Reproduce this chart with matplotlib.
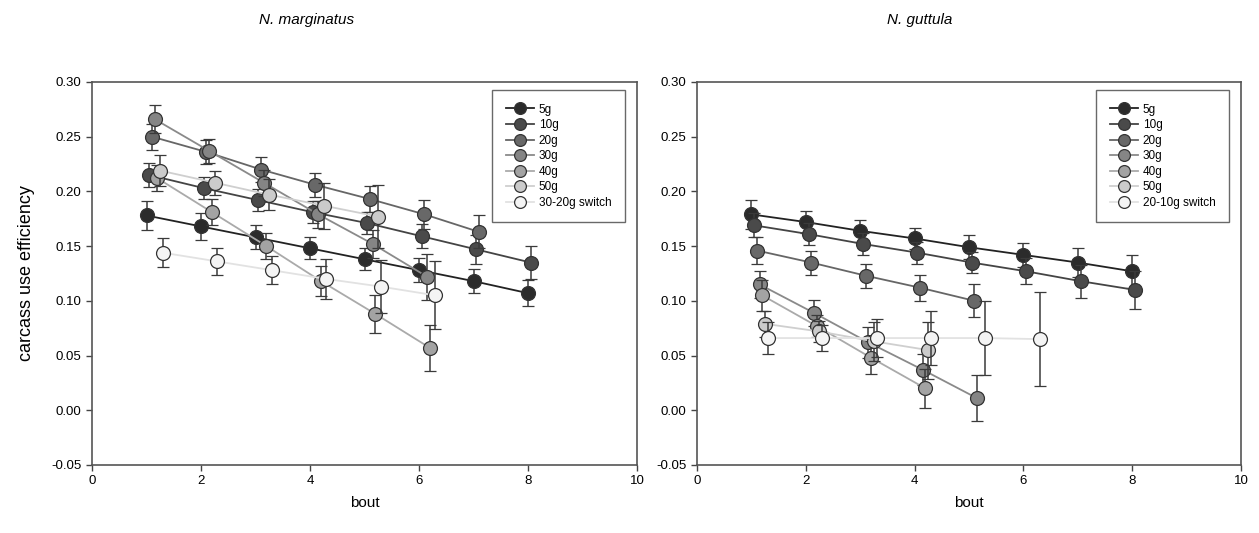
import numpy as np
import matplotlib.pyplot as plt
from matplotlib.ticker import FormatStrFormatter

plt.rcParams['font.family'] = ['Liberation Sans', 'DejaVu Sans']
plt.rcParams['axes.unicode_minus'] = False

labels_left = ["5g", "10g", "20g", "30g", "40g", "50g", "30-20g switch"]
labels_right = ["5g", "10g", "20g", "30g", "40g", "50g", "20-10g switch"]

# N. marginatus: mean efficiency per bout and error
marg_5 = [0.178, 0.168, 0.158, 0.148, 0.138, 0.128, 0.118, 0.107]
marg_5_err = [0.013, 0.012, 0.011, 0.010, 0.010, 0.011, 0.011, 0.012]
marg_10 = [0.215, 0.203, 0.192, 0.181, 0.171, 0.159, 0.147, 0.135]
marg_10_err = [0.011, 0.010, 0.010, 0.010, 0.010, 0.011, 0.013, 0.015]
marg_20 = [0.250, 0.236, 0.220, 0.206, 0.193, 0.179, 0.163]
marg_20_err = [0.012, 0.011, 0.011, 0.011, 0.012, 0.013, 0.015]
marg_30 = [0.266, 0.237, 0.208, 0.179, 0.152, 0.122]
marg_30_err = [0.013, 0.011, 0.012, 0.012, 0.013, 0.021]
marg_40 = [0.212, 0.181, 0.150, 0.118, 0.088, 0.057]
marg_40_err = [0.012, 0.012, 0.012, 0.014, 0.017, 0.021]
marg_50 = [0.219, 0.208, 0.197, 0.187, 0.177]
marg_50_err = [0.014, 0.011, 0.014, 0.021, 0.029]
marg_sw = [0.144, 0.136, 0.128, 0.120, 0.113, 0.105]
marg_sw_err = [0.013, 0.012, 0.013, 0.018, 0.024, 0.031]

# N. guttula
gutt_5 = [0.179, 0.172, 0.164, 0.157, 0.149, 0.142, 0.135, 0.127]
gutt_5_err = [0.013, 0.010, 0.010, 0.010, 0.011, 0.011, 0.013, 0.015]
gutt_10 = [0.169, 0.161, 0.152, 0.144, 0.135, 0.127, 0.118, 0.110]
gutt_10_err = [0.011, 0.010, 0.010, 0.010, 0.010, 0.012, 0.015, 0.017]
gutt_20 = [0.146, 0.135, 0.123, 0.112, 0.100]
gutt_20_err = [0.012, 0.011, 0.011, 0.012, 0.015]
gutt_30 = [0.115, 0.089, 0.062, 0.037, 0.011]
gutt_30_err = [0.012, 0.012, 0.014, 0.014, 0.021]
gutt_40 = [0.105, 0.077, 0.048, 0.020]
gutt_40_err = [0.014, 0.010, 0.015, 0.018]
gutt_50 = [0.079, 0.072, 0.063, 0.055]
gutt_50_err = [0.012, 0.010, 0.018, 0.026]
gutt_sw = [0.066, 0.066, 0.066, 0.066, 0.066, 0.065]
gutt_sw_err = [0.015, 0.012, 0.017, 0.025, 0.034, 0.043]

marg = [(marg_5, marg_5_err), (marg_10, marg_10_err), (marg_20, marg_20_err),
        (marg_30, marg_30_err), (marg_40, marg_40_err), (marg_50, marg_50_err),
        (marg_sw, marg_sw_err)]
gutt = [(gutt_5, gutt_5_err), (gutt_10, gutt_10_err), (gutt_20, gutt_20_err),
        (gutt_30, gutt_30_err), (gutt_40, gutt_40_err), (gutt_50, gutt_50_err),
        (gutt_sw, gutt_sw_err)]

face = ["#2b2b2b", "#4a4a4a", "#686868", "#858585", "#a3a3a3", "#cbcbcb", "#f4f4f4"]
linec = ["#222222", "#444444", "#666666", "#8a8a8a", "#aaaaaa", "#cfcfcf", "#e2e2e2"]


def panel(ax, data, labels):
    handles = []
    for i, (y, e) in enumerate(data):
        x = np.arange(1, len(y) + 1) + 0.05 * i
        c = ax.errorbar(x, y, yerr=e, fmt='o-', color=linec[i], lw=1.3,
                        ms=10, mfc=face[i], mec="#333333", mew=0.9,
                        ecolor="#3a3a3a", elinewidth=1.1, capsize=4.3, capthick=1.1,
                        label=labels[i], zorder=3 + i)
        handles.append(c[0])
    ax.set_xlim(0, 10)
    ax.set_ylim(-0.05, 0.30)
    ax.set_xticks([0, 2, 4, 6, 8, 10])
    ax.set_yticks(np.arange(-0.05, 0.301, 0.05))
    ax.yaxis.set_major_formatter(FormatStrFormatter('%.2f'))
    ax.tick_params(direction='out', length=4, width=1, color="#444444",
                   labelsize=9.5, top=False, right=False)
    for s in ax.spines.values():
        s.set_color("#555555")
        s.set_linewidth(1.2)
    ax.set_xlabel("bout", fontsize=11, labelpad=6)
    leg = ax.legend(handles, labels, loc='upper left', bbox_to_anchor=(0.734, 0.979),
                    fontsize=8.5, handlelength=2.4, handletextpad=0.4,
                    labelspacing=0.3, borderpad=1.15, fancybox=False,
                    frameon=True, borderaxespad=0, markerscale=0.85)
    leg.get_frame().set_edgecolor("#444444")
    leg.get_frame().set_linewidth(1.0)


fig = plt.figure(figsize=(12.59, 5.33), dpi=100)
ax1 = fig.add_axes([0.0731, 0.1276, 0.4329, 0.7186])
ax2 = fig.add_axes([0.5536, 0.1276, 0.4321, 0.7186])

panel(ax1, marg, labels_left)
panel(ax2, gutt, labels_right)

ax1.set_ylabel("carcass use efficiency", fontsize=13, labelpad=12)

fig.text(307 / 1259, 1 - 20 / 533, "N. marginatus", style='italic',
         fontsize=11, ha='center', va='center')
fig.text(920 / 1259, 1 - 20 / 533, "N. guttula", style='italic',
         fontsize=11, ha='center', va='center')

fig.savefig("out.png", dpi=100)
